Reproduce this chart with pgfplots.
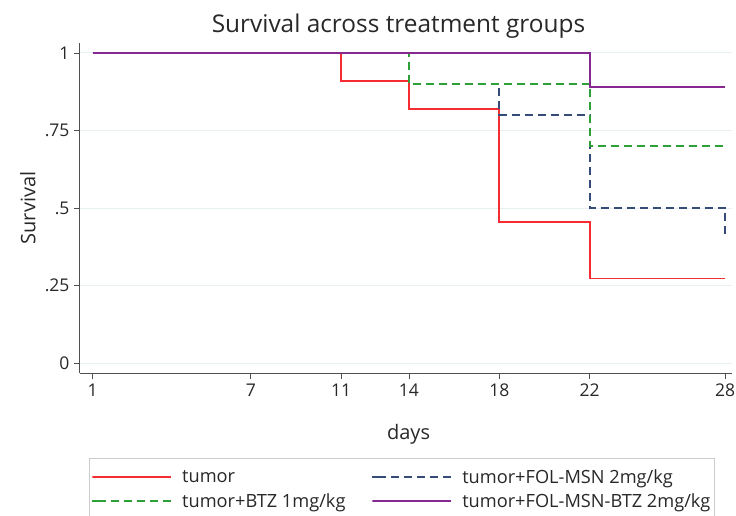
\documentclass[border=0pt]{standalone}
\usepackage{pgfplots}
\pgfplotsset{compat=1.18}
\usepackage{fontspec}
\setmainfont{Open Sans}

\definecolor{cTumor}{RGB}{245,45,50}
\definecolor{cMSN}{RGB}{55,75,120}
\definecolor{cBTZ}{RGB}{45,160,55}
\definecolor{cBoth}{RGB}{135,40,145}
\definecolor{gridc}{RGB}{232,240,242}
\definecolor{axisc}{RGB}{80,80,80}
\definecolor{textc}{RGB}{40,40,40}

\begin{document}
\begin{tikzpicture}[x=1pt,y=1pt]
\useasboundingbox (-80,-142) rectangle (656,373);
\begin{axis}[
  at={(0,0)},
  scale only axis,
  width=652pt, height=330pt,
  anchor=south west,
  xmin=-0.56, xmax=28.3,
  ymin=-0.032, ymax=1.032,
  axis x line*=bottom, axis y line*=left,
  axis line style={axisc, line width=1pt},
  every tick/.style={axisc, line width=0.8pt},
  tick align=outside, major tick length=6pt,
  xtick={0,7,11,14,18,22,28},
  xticklabels={1,7,11,14,18,22,28},
  ytick={0,0.25,0.5,0.75,1},
  yticklabels={0,.25,.5,.75,1},
  ymajorgrids, grid style={gridc, line width=1pt},
  tick label style={font=\fontsize{17.5}{20}\selectfont, text=textc},
  /pgf/number format/assume math mode=true,
  xticklabel style={yshift=-1pt},
  yticklabel style={xshift=-1pt},
  title={Survival across treatment groups},
  title style={at={(axis description cs:0.4885,1)}, anchor=center, yshift=11pt,
               font=\fontsize{24.4}{28}\selectfont, text=textc},
  xlabel={days},
  xlabel style={at={(axis description cs:0.504,-0.185)}, anchor=center,
                font=\fontsize{20}{23}\selectfont, text=textc},
  ylabel={Survival},
  ylabel style={at={(axis description cs:-0.08,0.5)}, anchor=center,
                font=\fontsize{20}{23}\selectfont, text=textc},
  legend columns=2,
  legend cell align=left,
  legend style={at={(axis description cs:0.0138,-0.2575)}, anchor=north west,
                draw={rgb,255:red,205;green,205;blue,205}, line width=0.8pt,
                font=\fontsize{18.2}{21}\selectfont, text=textc,
                inner xsep=2pt, inner ysep=9pt,
                row sep=5pt,
                /tikz/every odd column/.append style={column sep=8pt},
                /tikz/every even column/.append style={column sep=24pt}},
  % each sample line keeps a small margin on its left
  legend image code/.code={%
    \path (0pt,0pt) rectangle (6pt,0pt);
    \draw[#1, line width=1.8pt] (6pt,0pt)--(79pt,0pt);},
]
% tumor
\addplot[cTumor, line width=1.8pt, const plot] coordinates {
  (0,1) (11,0.9091) (14,0.8182) (18,0.4545) (22,0.2727) (28,0.2727)};
\addlegendentry{tumor}
% tumor+FOL-MSN 2mg/kg
\addplot[cMSN, line width=1.8pt, const plot, dash pattern=on 8pt off 5pt] coordinates {
  (0,1) (14,0.9) (18,0.8) (22,0.5) (28,0.4)};
\addlegendentry{tumor+FOL-MSN 2mg/kg}
% tumor+BTZ 1mg/kg
\addplot[cBTZ, line width=1.8pt, const plot, dash pattern=on 8pt off 5pt] coordinates {
  (0,1) (14,0.9) (22,0.7) (28,0.7)};
\addlegendentry{tumor+BTZ 1mg/kg}
% tumor+FOL-MSN-BTZ 2mg/kg
\addplot[cBoth, line width=1.8pt, const plot] coordinates {
  (0,1) (22,0.8889) (28,0.8889)};
\addlegendentry{tumor+FOL-MSN-BTZ 2mg/kg}
\end{axis}
\end{tikzpicture}
\end{document}
